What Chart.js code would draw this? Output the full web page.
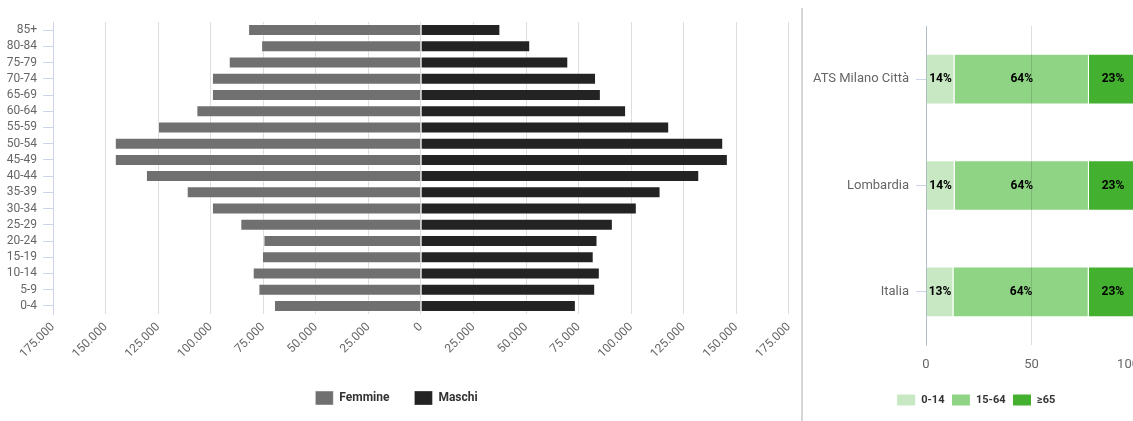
<!DOCTYPE html>
<html>
<head>
<meta charset="utf-8">
<script src="https://cdn.jsdelivr.net/npm/chart.js@4.4.1/dist/chart.umd.min.js"></script>
<style>
  html, body { margin: 0; padding: 0; background: #fff; overflow: hidden; }
  #wrap { position: relative; width: 1133px; height: 421px; overflow: hidden; }
  #left { position: absolute; left: 0; top: 0; width: 805px; height: 415px; }
  #sep { position: absolute; left: 801px; top: 8px; width: 2px; height: 413px; background: #d6d6d6; }
  #right { position: absolute; left: 803px; top: 0; width: 357px; height: 421px; }
</style>
</head>
<body>
<div id="wrap">
  <div id="left"><canvas id="pyramidChart"></canvas></div>
  <div id="sep"></div>
  <div id="right"><canvas id="structureChart"></canvas></div>
</div>
<script>
// Piramide per età (top -> bottom)
const ageGroups = ["85+", "80-84", "75-79", "70-74", "65-69", "60-64", "55-59", "50-54", "45-49",
  "40-44", "35-39", "30-34", "25-29", "20-24", "15-19", "10-14", "5-9", "0-4"];
const femmine = [82200, 76000, 91400, 99400, 99400, 106800, 125100, 145600, 145600,
  130800, 111400, 99400, 85900, 74900, 75600, 80000, 77300, 69900];
const maschi = [37800, 52000, 70100, 83300, 85600, 97600, 118100, 143800, 146000,
  132400, 114000, 102700, 91300, 84000, 82200, 85100, 82900, 73700];
const pyramidMax = 175000;
const pyramidStep = 25000;

// Struttura per fasce d'età (%)
const areas = ["ATS Milano Città", "Lombardia", "Italia"];
const quota0_14 = [13.5, 13.6, 13.0];
const quota15_64 = [63.7, 63.6, 64.1];
const quota65 = [22.8, 22.8, 22.9];
const pctMax = 100;
const pctStep = 50;

const tickColor = "#666666";
const axisBlue = "#ccd6eb";

function formatIt(n) {
  return String(n).replace(/\B(?=(\d{3})+(?!\d))/g, ".");
}

// Pyramid chart
new Chart(document.getElementById("pyramidChart"), {
  type: "bar",
  data: {
    labels: ageGroups,
    datasets: [
      {
        label: "Femmine",
        data: femmine.map(v => -v),
        backgroundColor: "#707070",
        borderColor: "rgba(255,255,255,0.45)",
        borderWidth: 1,
        categoryPercentage: 0.74,
        barPercentage: 1
      },
      {
        label: "Maschi",
        data: maschi,
        backgroundColor: "#232323",
        borderColor: "rgba(255,255,255,0.3)",
        borderWidth: 1,
        categoryPercentage: 0.74,
        barPercentage: 1
      }
    ]
  },
  options: {
    indexAxis: "y",
    responsive: true,
    maintainAspectRatio: false,
    animation: false,
    layout: { padding: { top: 22, right: 12, left: 0, bottom: 0 } },
    plugins: {
      tooltip: { enabled: false },
      legend: {
        position: "bottom",
        labels: {
          boxWidth: 18,
          boxHeight: 14,
          padding: 25,
          color: "#333333",
          font: { family: "Roboto", size: 12, weight: "bold" }
        }
      }
    },
    scales: {
      x: {
        stacked: true,
        min: -pyramidMax,
        max: pyramidMax,
        grid: { color: "#dddddd", drawTicks: false },
        border: { display: false },
        ticks: {
          stepSize: pyramidStep,
          minRotation: 45,
          maxRotation: 45,
          padding: 6,
          color: tickColor,
          font: { family: "Roboto", size: 12 },
          callback: v => formatIt(Math.abs(v))
        },
        afterFit: s => { s.height = 52; }
      },
      y: {
        stacked: true,
        grid: { drawOnChartArea: false, offset: false, color: axisBlue, tickLength: 10 },
        border: { color: axisBlue },
        ticks: { autoSkip: false, color: tickColor, padding: 6, font: { family: "Roboto", size: 12 } },
        afterFit: s => { s.width = 53; }
      }
    }
  }
});

// Percent labels inside the stacked bars
const pctLabels = {
  id: "pctLabels",
  beforeDraw(chart) {
    // keep the last x label inside the plot edge (like the original)
    const items = chart.scales.x.getLabelItems();
    const last = items[items.length - 1];
    if (last) {
      last.options.textAlign = "right";
      last.options.translation[0] = chart.chartArea.right + 2;
    }
  },
  afterDraw(chart) {
    const ctx = chart.ctx;
    ctx.save();
    ctx.font = "bold 12px Roboto";
    ctx.fillStyle = "#000000";
    ctx.textAlign = "center";
    ctx.textBaseline = "middle";
    chart.data.datasets.forEach((ds, i) => {
      chart.getDatasetMeta(i).data.forEach((bar, j) => {
        const cx = (bar.x + bar.base) / 2;
        ctx.fillText(Math.round(ds.data[j]) + "%", cx, bar.y);
      });
    });
    ctx.restore();
  }
};

new Chart(document.getElementById("structureChart"), {
  type: "bar",
  data: {
    labels: areas,
    datasets: [
      { label: "0-14", data: quota0_14, backgroundColor: "#c8e8c3" },
      { label: "15-64", data: quota15_64, backgroundColor: "#8fd385" },
      { label: "≥65", data: quota65, backgroundColor: "#43b02f" }
    ].map(d => Object.assign(d, {
      borderColor: "#ffffff",
      borderWidth: 1,
      categoryPercentage: 0.476,
      barPercentage: 1
    }))
  },
  options: {
    indexAxis: "y",
    responsive: true,
    maintainAspectRatio: false,
    animation: false,
    layout: { padding: { top: 26, right: 11, left: 0, bottom: 5 } },
    plugins: {
      tooltip: { enabled: false },
      legend: {
        position: "bottom",
        labels: {
          boxWidth: 19,
          boxHeight: 12,
          padding: 7,
          color: "#333333",
          font: { family: "Roboto", size: 11, weight: "bold" }
        }
      }
    },
    scales: {
      x: {
        stacked: true,
        min: 0,
        max: pctMax,
        grid: { color: "rgba(0,0,0,0.13)", drawTicks: false, z: 1 },
        border: { display: false },
        ticks: {
          stepSize: pctStep,
          padding: 12,
          maxRotation: 0,
          color: tickColor,
          font: { family: "Roboto", size: 13 }
        },
        afterFit: s => { s.height = 42; }
      },
      y: {
        stacked: true,
        grid: { drawOnChartArea: false, offset: false, color: axisBlue, tickLength: 10 },
        border: { color: axisBlue },
        ticks: { color: tickColor, padding: 7, font: { family: "Roboto", size: 13 } },
        afterFit: s => { s.width = 123; }
      }
    }
  },
  plugins: [pctLabels]
});
</script>
</body>
</html>
